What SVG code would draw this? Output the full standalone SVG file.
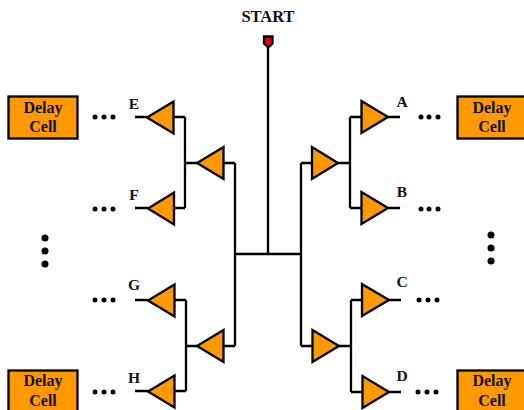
<svg xmlns="http://www.w3.org/2000/svg" width="524" height="410" viewBox="0 0 524 410">
<style>
.w{fill:none;stroke:#000;stroke-width:2.300}
.t{fill:#f90;stroke:#000;stroke-width:2.300;stroke-linejoin:miter}
.b{fill:#f90;stroke:#000;stroke-width:2.300}
text{font-family:"Liberation Serif","Times New Roman",serif;font-weight:bold;fill:#111}
.c{font-size:16px;text-anchor:middle}
.l{font-size:15.500px;text-anchor:middle}
.s{font-size:16.500px;text-anchor:middle}
circle{fill:#000}
</style>
<rect width="524" height="410" fill="#fff"/>
<g id="connectors">
<path class="w" d="M268 46V254M235 254H301"/>
<path class="w" d="M235 163V346M224 163H235M224 346H235"/>
<path class="w" d="M301 163V346M301 163H312M301 346H312"/>
<path class="w" d="M185 117V208M174 117H185M174 208H185M185 163H197"/>
<path class="w" d="M186 300V391M175 300H186M175 391H186M186 346H197"/>
<path class="w" d="M350 117V208M350 117H361M350 208H361M338 163H350"/>
<path class="w" d="M351 300V392M351 300H362M351 392H362M339 346H351"/>
<path class="w" d="M135 117H147M135 208H148M135 300H148M135 391H148"/>
<path class="w" d="M388 117H400M388 208H400M389 300H401M389 392H401"/>
</g>
<g id="start"><text class="s" x="268" y="22">START</text>
<path d="M264 36.500H272.500V43.500L268.300 47.500L264 43.500Z" fill="#e00" stroke="#000" stroke-width="2.300"/></g>
<g id="cell-tl"><rect class="b" x="8.500" y="96.500" width="69" height="42"/><text class="c" x="43" y="113">Delay</text><text class="c" x="43" y="132">Cell</text></g>
<g id="cell-tr"><rect class="b" x="457.500" y="96.500" width="69" height="42"/><text class="c" x="492" y="113">Delay</text><text class="c" x="492" y="132">Cell</text></g>
<g id="cell-bl"><rect class="b" x="8.500" y="370.500" width="69" height="42"/><text class="c" x="43" y="386">Delay</text><text class="c" x="43" y="406">Cell</text></g>
<g id="cell-br"><rect class="b" x="457.500" y="370.500" width="69" height="42"/><text class="c" x="492" y="386">Delay</text><text class="c" x="492" y="406">Cell</text></g>
<g id="buf-e"><path class="t" d="M147 117.500L173.500 101.500V133.500Z"/></g>
<g id="buf-f"><path class="t" d="M148 208.500L174 192.500V224.500Z"/></g>
<g id="buf-g"><path class="t" d="M148 300.500L174.500 284.500V316.500Z"/></g>
<g id="buf-h"><path class="t" d="M148 391.500L174.500 375.500V407.500Z"/></g>
<g id="buf-l1"><path class="t" d="M197 163L223.500 147V179Z"/></g>
<g id="buf-l2"><path class="t" d="M197 346L223.500 330V362Z"/></g>
<g id="buf-r1"><path class="t" d="M338 163L312 147V179Z"/></g>
<g id="buf-r2"><path class="t" d="M339 346L312.500 330V362Z"/></g>
<g id="buf-a"><path class="t" d="M388 117L361.500 101V133Z"/></g>
<g id="buf-b"><path class="t" d="M388 208L361.500 192V224Z"/></g>
<g id="buf-c"><path class="t" d="M389 300L362 284V316Z"/></g>
<g id="buf-d"><path class="t" d="M389 392L362.500 376V408Z"/></g>
<g id="labels">
<text class="l" x="134" y="109">E</text><text class="l" x="134" y="200">F</text><text class="l" x="134" y="290">G</text><text class="l" x="134" y="383">H</text>
<text class="l" x="402" y="107">A</text><text class="l" x="402" y="197">B</text><text class="l" x="402" y="287">C</text><text class="l" x="402" y="381">D</text>
</g>
<g id="dots">
<circle cx="95" cy="117" r="2.500"/><circle cx="104" cy="117" r="2.500"/><circle cx="113" cy="117" r="2.500"/>
<circle cx="95" cy="209" r="2.500"/><circle cx="104" cy="209" r="2.500"/><circle cx="113" cy="209" r="2.500"/>
<circle cx="95" cy="300" r="2.500"/><circle cx="104" cy="300" r="2.500"/><circle cx="113" cy="300" r="2.500"/>
<circle cx="95" cy="392" r="2.500"/><circle cx="104" cy="392" r="2.500"/><circle cx="113" cy="392" r="2.500"/>
<circle cx="421" cy="117" r="2.500"/><circle cx="429" cy="117" r="2.500"/><circle cx="438" cy="117" r="2.500"/>
<circle cx="421" cy="209" r="2.500"/><circle cx="429" cy="209" r="2.500"/><circle cx="438" cy="209" r="2.500"/>
<circle cx="419" cy="300" r="2.500"/><circle cx="428" cy="300" r="2.500"/><circle cx="437" cy="300" r="2.500"/>
<circle cx="418" cy="392" r="2.500"/><circle cx="427" cy="392" r="2.500"/><circle cx="436" cy="392" r="2.500"/>
<circle cx="45" cy="238" r="3.500"/><circle cx="45" cy="251" r="3.500"/><circle cx="45" cy="264" r="3.500"/>
<circle cx="491" cy="235" r="3.500"/><circle cx="491" cy="248" r="3.500"/><circle cx="491" cy="261" r="3.500"/>
</g>
</svg>
